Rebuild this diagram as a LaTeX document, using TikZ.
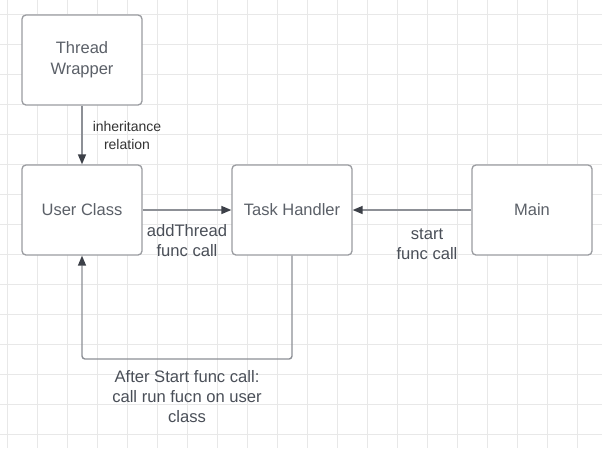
\documentclass[tikz,border=0pt]{standalone}
\usepackage{fontspec}
\setmainfont{Liberation Sans}
\usetikzlibrary{arrows.meta}
\definecolor{gridc}{HTML}{E8E8E8}
\definecolor{boxc}{HTML}{9A9CA1}
\definecolor{boxtext}{HTML}{5B6068}
\definecolor{labtext}{HTML}{4A4F58}
\definecolor{inhtext}{HTML}{333333}
\definecolor{linec}{HTML}{8D9096}
\definecolor{tipc}{HTML}{3C4048}
\tikzset{
  stepbox/.style={draw=boxc, line width=1.3pt, fill=white, rounded corners=4pt,
    minimum width=120pt, minimum height=90pt, inner sep=0pt, align=center,
    text=boxtext, font=\fontsize{16.5}{21}\selectfont},
  conn/.style={draw=linec, line width=1.4pt,
    -{Triangle[length=10pt, width=8pt, color=tipc]}},
  lab/.style={text=labtext, align=center, font=\fontsize{16.6}{20}\selectfont, inner sep=0pt},
  inhlab/.style={text=inhtext, align=center, font=\fontsize{14}{18}\selectfont, inner sep=0pt}
}
\begin{document}
\begin{tikzpicture}[x=1pt, y=-1pt]
\useasboundingbox (0,0) rectangle (602,448);
\fill[white] (0,0) rectangle (602,448);
\foreach \k in {0,...,19} \draw[gridc, line width=1pt] (7+30*\k,0) -- (7+30*\k,448);
\foreach \k in {0,...,14} \draw[gridc, line width=1pt] (0,14+30*\k) -- (602,14+30*\k);

\node[stepbox] (tw) at (82,60) {Thread\\Wrapper};
\node[stepbox] (uc) at (82,210) {User Class};
\node[stepbox] (th) at (292,210) {Task Handler};
\node[stepbox] (mn) at (532,210) {Main};

\coordinate (lp) at (82,359);

\draw[conn] (tw.south) -- (uc.north);
\draw[conn] (uc.east) -- (th.west);
\draw[conn] (mn.west) -- (th.east);
\draw[conn, rounded corners=3pt] (th.south) |- (lp) -- (uc.south);

\node[inhlab] (l1) at (127,135) {inheritance\\relation};
\node[lab] (l2) at (187,240.5) {addThread\\func call};
\node[lab] (l3) at (427,244) {start\\func call};
\node[lab] (l4) at (187,397) {After Start func call:\\call run fucn on user\\class};
\end{tikzpicture}
\end{document}
